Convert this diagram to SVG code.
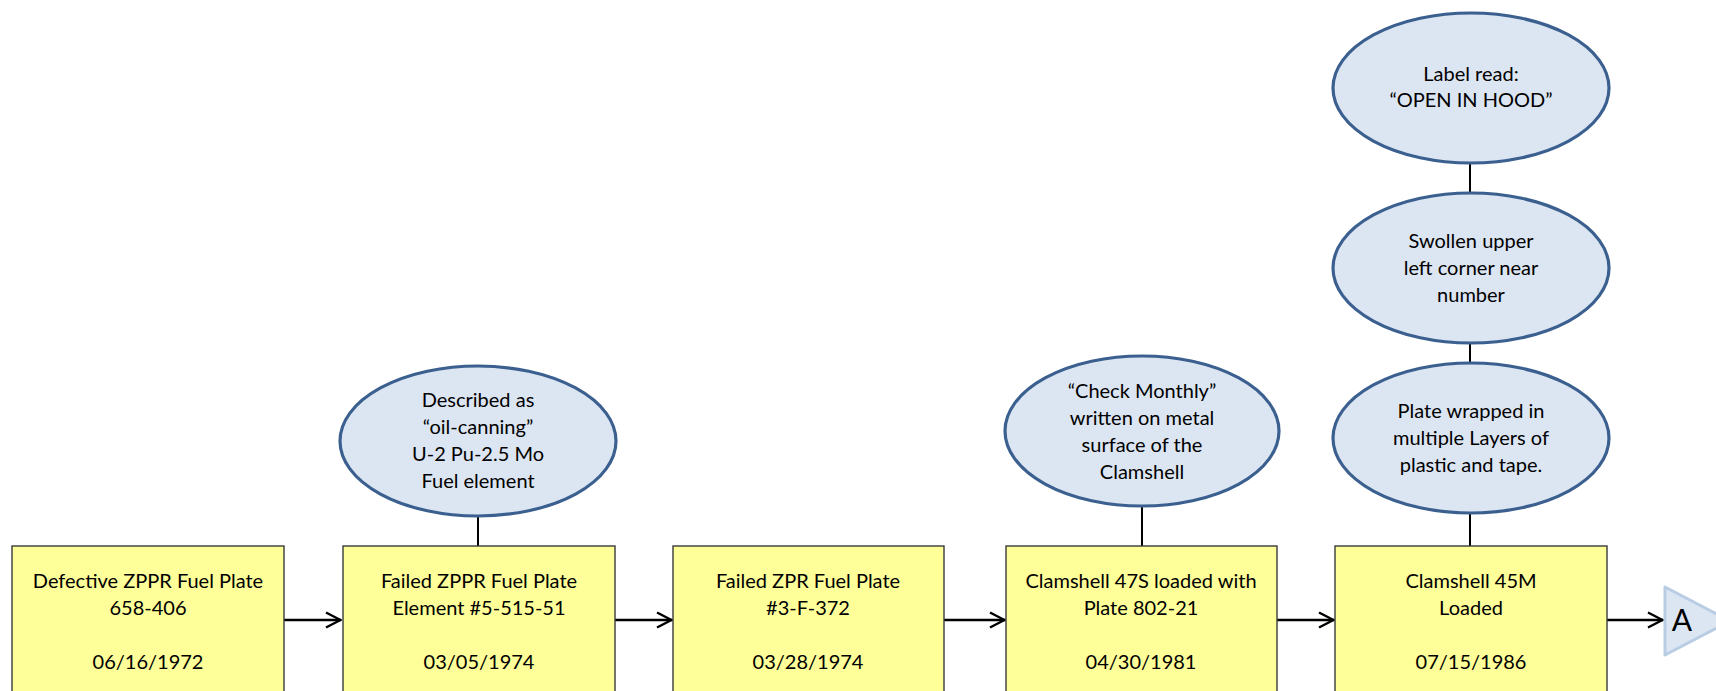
<svg xmlns="http://www.w3.org/2000/svg" width="1716" height="691" viewBox="0 0 1716 691">
  <defs>
    <style>
      .box { fill: #FFFF99; stroke: #3a3a3a; stroke-width: 1.4; }
      .note { fill: #DCE6F2; stroke: #3B6090; stroke-width: 3.2; }
      .link { stroke: #000; stroke-width: 2.4; fill: none; }
      .stem { stroke: #000; stroke-width: 2; fill: none; }
      .txt { font-family: Lato, "Liberation Sans", sans-serif; font-size: 20px; fill: #000; text-anchor: middle; }
      .off { fill: #DCE6F2; stroke: #B8CCE4; stroke-width: 3; stroke-linejoin: round; }
    </style>
    <marker id="arrow" viewBox="0 0 17 18" refX="16" refY="9" markerWidth="17" markerHeight="18" markerUnits="userSpaceOnUse" orient="auto">
      <path d="M1,1.5 L15.5,9 L1,16.5" fill="none" stroke="#000" stroke-width="2.4"/>
    </marker>
  </defs>

  <!-- connectors -->
  <g id="connectors">
    <line class="link" x1="284" y1="620" x2="341" y2="620" marker-end="url(#arrow)"/>
    <line class="link" x1="615" y1="620" x2="672" y2="620" marker-end="url(#arrow)"/>
    <line class="link" x1="944" y1="620" x2="1005" y2="620" marker-end="url(#arrow)"/>
    <line class="link" x1="1277" y1="620" x2="1334" y2="620" marker-end="url(#arrow)"/>
    <line class="link" x1="1607" y1="620" x2="1663" y2="620" marker-end="url(#arrow)"/>
    <line class="stem" x1="478" y1="516" x2="478" y2="546"/>
    <line class="stem" x1="1142" y1="506" x2="1142" y2="546"/>
    <line class="stem" x1="1470" y1="513" x2="1470" y2="546"/>
    <line class="stem" x1="1470" y1="343" x2="1470" y2="363"/>
    <line class="stem" x1="1470" y1="163" x2="1470" y2="193"/>
  </g>

  <!-- timeline boxes -->
  <g id="box-1972">
    <rect class="box" x="12" y="546" width="272" height="160"/>
    <text class="txt" x="148" y="588">Defective ZPPR Fuel Plate</text>
    <text class="txt" x="148" y="615">658-406</text>
    <text class="txt" x="148" y="669">06/16/1972</text>
  </g>
  <g id="box-1974a">
    <rect class="box" x="343" y="546" width="272" height="160"/>
    <text class="txt" x="479" y="588">Failed ZPPR Fuel Plate</text>
    <text class="txt" x="479" y="615">Element #5-515-51</text>
    <text class="txt" x="479" y="669">03/05/1974</text>
  </g>
  <g id="box-1974b">
    <rect class="box" x="673" y="546" width="271" height="160"/>
    <text class="txt" x="808" y="588">Failed ZPR Fuel Plate</text>
    <text class="txt" x="808" y="615">#3-F-372</text>
    <text class="txt" x="808" y="669">03/28/1974</text>
  </g>
  <g id="box-1981">
    <rect class="box" x="1006" y="546" width="271" height="160"/>
    <text class="txt" x="1141" y="588">Clamshell 47S loaded with</text>
    <text class="txt" x="1141" y="615">Plate 802-21</text>
    <text class="txt" x="1141" y="669">04/30/1981</text>
  </g>
  <g id="box-1986">
    <rect class="box" x="1335" y="546" width="272" height="160"/>
    <text class="txt" x="1471" y="588">Clamshell 45M</text>
    <text class="txt" x="1471" y="615">Loaded</text>
    <text class="txt" x="1471" y="669">07/15/1986</text>
  </g>

  <!-- notes -->
  <g id="note-oil-canning">
    <ellipse class="note" cx="478" cy="441" rx="138" ry="75"/>
    <text class="txt" x="478" y="407">Described as</text>
    <text class="txt" x="478" y="434">“oil-canning”</text>
    <text class="txt" x="478" y="461">U-2 Pu-2.5 Mo</text>
    <text class="txt" x="478" y="488">Fuel element</text>
  </g>
  <g id="note-check-monthly">
    <ellipse class="note" cx="1142" cy="431" rx="137" ry="75"/>
    <text class="txt" x="1142" y="398">“Check Monthly”</text>
    <text class="txt" x="1142" y="425">written on metal</text>
    <text class="txt" x="1142" y="452">surface of the</text>
    <text class="txt" x="1142" y="479">Clamshell</text>
  </g>
  <g id="note-wrapped">
    <ellipse class="note" cx="1471" cy="438" rx="138" ry="75"/>
    <text class="txt" x="1471" y="418">Plate wrapped in</text>
    <text class="txt" x="1471" y="445">multiple Layers of</text>
    <text class="txt" x="1471" y="472">plastic and tape.</text>
  </g>
  <g id="note-swollen">
    <ellipse class="note" cx="1471" cy="268" rx="138" ry="75"/>
    <text class="txt" x="1471" y="248">Swollen upper</text>
    <text class="txt" x="1471" y="275">left corner near</text>
    <text class="txt" x="1471" y="302">number</text>
  </g>
  <g id="note-label">
    <ellipse class="note" cx="1471" cy="88" rx="138" ry="75"/>
    <text class="txt" x="1471" y="81">Label read:</text>
    <text class="txt" x="1471" y="107">“OPEN IN HOOD”</text>
  </g>

  <!-- off-page connector -->
  <g id="offpage-A">
    <polygon class="off" points="1665,587 1665,655 1730,621"/>
    <text x="1682" y="631" style="font-family: Lato, 'Liberation Sans', sans-serif; font-size: 30px; text-anchor: middle; fill: #000;">A</text>
  </g>
</svg>
